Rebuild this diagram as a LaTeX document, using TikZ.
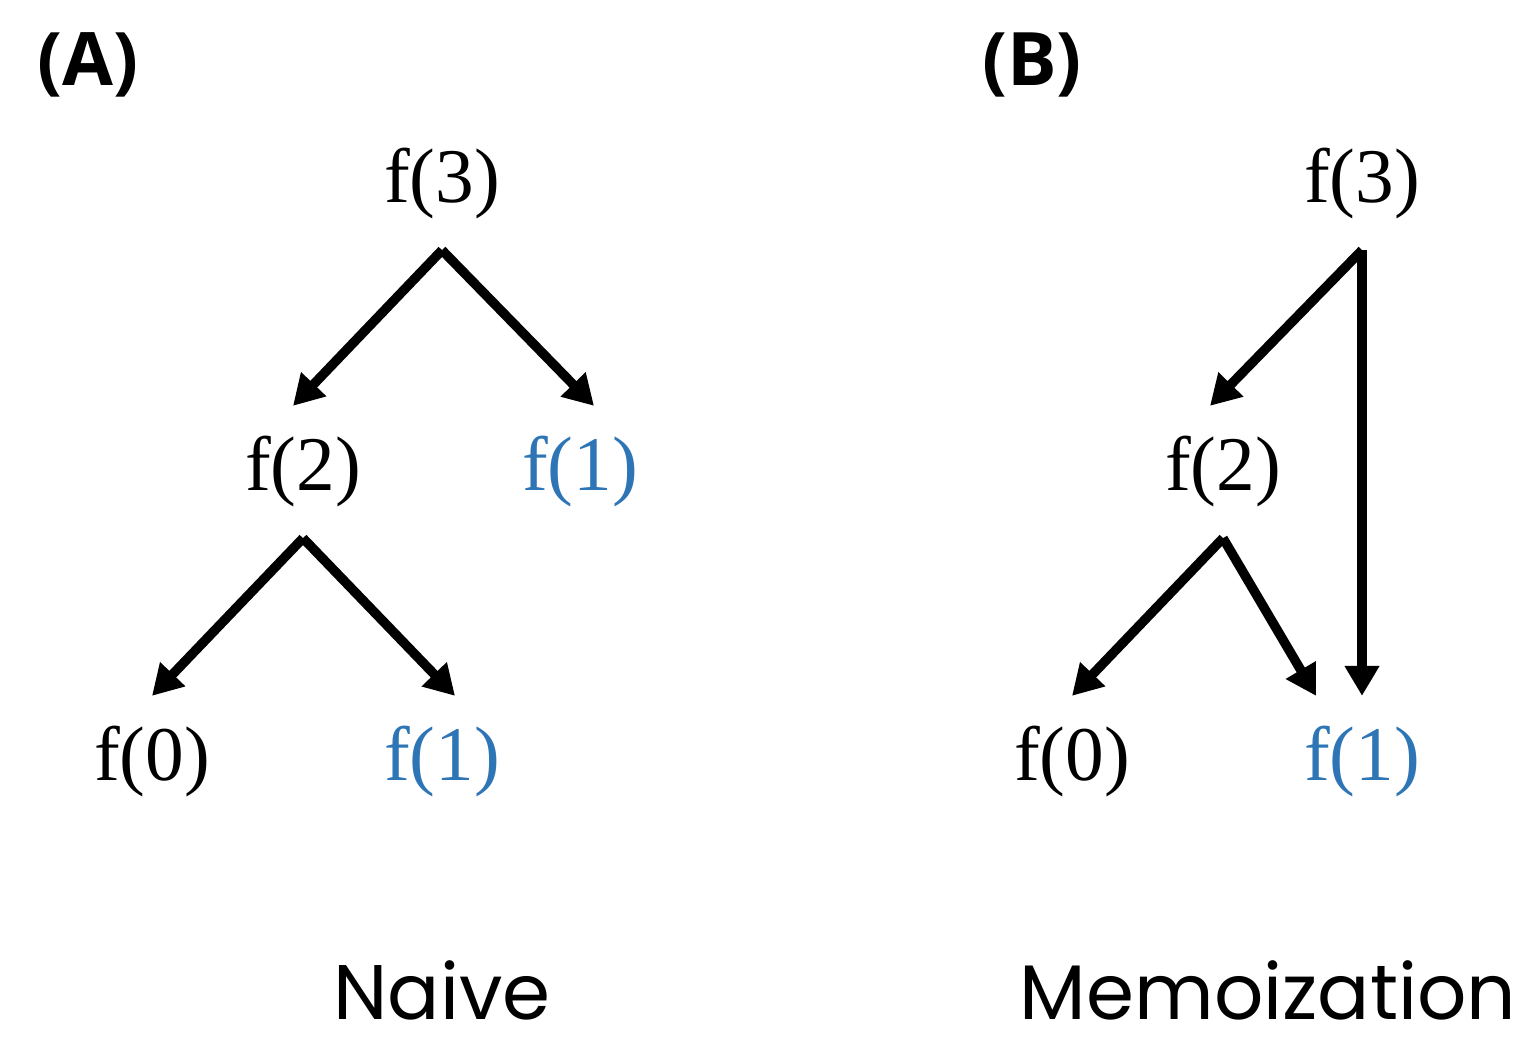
\documentclass[tikz,border=0pt]{standalone}
\usepackage{fontspec}
\usetikzlibrary{arrows.meta}
\newfontfamily\capfont{Poppins}
\newfontfamily\panelfont{Open Sans}
\newfontfamily\callfont{Liberation Serif}
\definecolor{memoblue}{RGB}{46,117,182}
\tikzset{
  fn/.style={inner xsep=0pt,inner ysep=0.3cm,font=\callfont\fontsize{22pt}{26pt}\selectfont},
  fnmemo/.style={fn,text=memoblue},
  call/.style={-{Triangle[length=3mm,width=3.3mm]},line width=2.7pt},
  panel/.style={inner sep=0pt,font=\panelfont\bfseries\fontsize{21pt}{25pt}\selectfont},
  caption/.style={inner sep=0pt,font=\capfont\fontsize{22pt}{26pt}\selectfont}
}

\begin{document}
\begin{tikzpicture}
			\useasboundingbox (0,0) rectangle (15.3,-10.48);
			\node[panel] (pa) at (0.88,-0.65) {(A)};
			\node[panel] (pb) at (10.32,-0.65) {(B)};
			\node[fn] (a3) at (4.42,-1.84) {f(3)};
			\node[fn] (a2) at (3.03,-4.72) {f(2)};
			\node[fnmemo] (a1) at (5.80,-4.72) {f(1)};
			\node[fn] (a0) at (1.52,-7.62) {f(0)};
			\node[fnmemo] (a1b) at (4.42,-7.62) {f(1)};
			\node[fn] (b3) at (13.62,-1.84) {f(3)};
			\node[fn] (b2) at (12.23,-4.72) {f(2)};
			\node[fn] (b0) at (10.72,-7.62) {f(0)};
			\node[fnmemo] (b1) at (13.62,-7.62) {f(1)};
			\node[caption] (na) at (4.42,-9.90) {Naive};
			\node[caption] (me) at (12.68,-9.90) {Memoization};
			\draw[call] (a3.south) -- ([xshift=-1mm]a2.north);
			\draw[call] (a3.south) -- ([xshift=1.4mm]a1.north);
			\draw[call] (a2.south) -- (a0.north);
			\draw[call] (a2.south) -- ([xshift=1.3mm]a1b.north);
			\draw[call] (b3.south) -- ([xshift=-1.3mm]b2.north);
			\draw[call] (b3.south) -- (b1.north);
			\draw[call] (b2.south) -- (b0.north);
			\draw[call] (b2.south) -- ([xshift=-4.6mm]b1.north);
\end{tikzpicture}
\end{document}
